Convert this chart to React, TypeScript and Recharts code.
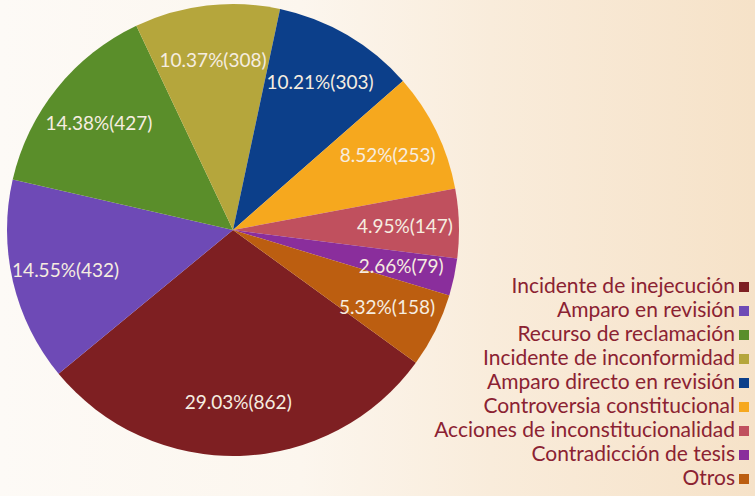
import React from 'react';
import { PieChart, Pie, Cell, Legend } from 'recharts';

const categories = [
  'Incidente de inejecución',
  'Amparo en revisión',
  'Recurso de reclamación',
  'Incidente de inconformidad',
  'Amparo directo en revisión',
  'Controversia constitucional',
  'Acciones de inconstitucionalidad',
  'Contradicción de tesis',
  'Otros',
];
const counts = [862, 432, 427, 308, 303, 253, 147, 79, 158];
const percents = ['29.03%', '14.55%', '14.38%', '10.37%', '10.21%', '8.52%', '4.95%', '2.66%', '5.32%'];
const colors = ['#7E1F22', '#6E4AB6', '#5A8E2A', '#B5A63C', '#0C3F8A', '#F6A81E', '#C0505E', '#8A2E9C', '#BC5E10'];

const data = categories.map((name, i) => ({ name, value: counts[i], pct: percents[i], color: colors[i] }));

const RAD = Math.PI / 180;

const renderLabel = (props: any) => {
  const { cx, cy, midAngle, index } = props;
  const r = 172;
  const x = cx + r * Math.cos(-midAngle * RAD);
  const y = cy + r * Math.sin(-midAngle * RAD);
  return (
    <text
      x={x}
      y={y}
      fill="#F6EDE0"
      textAnchor="middle"
      dominantBaseline="central"
      style={{ fontFamily: 'Lato, "Open Sans", sans-serif', fontSize: 19 }}
    >
      {`${data[index].pct}(${data[index].value})`}
    </text>
  );
};

const renderLegend = () => (
  <div style={{ display: 'flex', flexDirection: 'column', alignItems: 'flex-end' }}>
    {data.map((d) => (
      <div
        key={d.name}
        style={{
          height: 24,
          lineHeight: '24px',
          display: 'flex',
          alignItems: 'center',
          fontFamily: 'Lato, "Open Sans", sans-serif',
          fontSize: 21,
          color: '#8B2232',
          whiteSpace: 'nowrap',
        }}
      >
        <span>{d.name}</span>
        <span
          style={{
            display: 'inline-block',
            width: 10,
            height: 10,
            marginLeft: 4,
            marginTop: 3,
            background: d.color,
          }}
        />
      </div>
    ))}
  </div>
);

export default function App() {
  return (
    <div
      style={{
        position: 'fixed',
        left: 0,
        top: 0,
        width: 755,
        height: 496,
        background:
          'linear-gradient(90deg, #fdfaf6 0%, #fcf6ee 40%, #f9ecdb 65%, #f6e2c8 100%)',
      }}
    >
      <PieChart width={755} height={496} margin={{ top: 0, right: 0, bottom: 0, left: 0 }}>
        <Pie
          data={data}
          dataKey="value"
          nameKey="name"
          cx={233}
          cy={230}
          outerRadius={226}
          startAngle={-36}
          endAngle={-396}
          stroke="none"
          label={renderLabel}
          labelLine={false}
          isAnimationActive={false}
        >
          {data.map((d) => (
            <Cell key={d.name} fill={d.color} />
          ))}
        </Pie>
        <Legend
          content={renderLegend}
          wrapperStyle={{ position: 'absolute', top: 273, right: 6, left: 'auto', width: 'auto' }}
        />
      </PieChart>
    </div>
  );
}
